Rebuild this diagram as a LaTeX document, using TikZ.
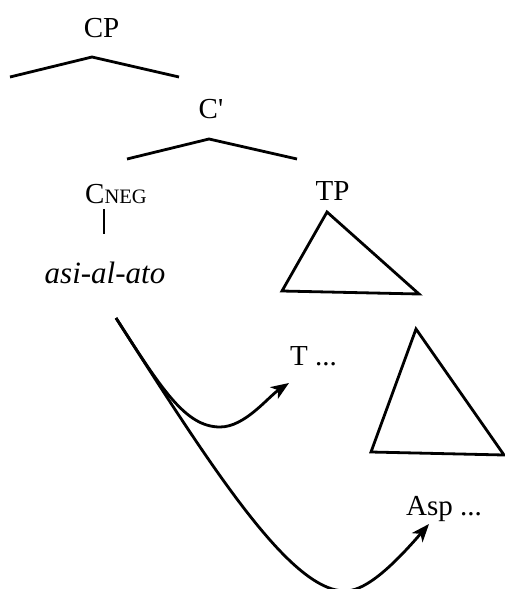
\documentclass[tikz,border=0pt]{standalone}
\usepackage{fontspec}
\setmainfont{Liberation Serif}
\usetikzlibrary{arrows.meta}
\begin{document}
\begin{tikzpicture}[x=1pt,y=-1pt,
  lbl/.style={inner sep=0pt,anchor=base,font=\fontsize{29}{33}\selectfont},
  itlbl/.style={inner sep=0pt,anchor=base,font=\fontsize{31}{36}\selectfont\itshape},
  branch/.style={line width=2.8pt},
  tri/.style={line width=2.8pt,line join=miter},
  mv/.style={line width=2.8pt,-{Stealth[length=18pt,width=14pt,inset=5pt]}}]
\useasboundingbox (0,0) rectangle (505,589);
% labels
\node[lbl] (cp) at (101.5,37) {CP};
\node[lbl] (cbar) at (211,118) {C\textquotesingle};
\node[lbl,anchor=base west] (cneg) at (85,203) {C{\fontsize{20.5}{22}\selectfont NEG}};
\node[lbl] (tp) at (332.5,200) {TP};
\node[itlbl] (asi) at (105,283) {asi-al-ato};
\node[lbl,anchor=base west] (t) at (290,365) {T ...};
\node[lbl,anchor=base west] (asp) at (406,515) {Asp ...};
% branch coordinates
\coordinate (cpL) at (10,77);
\coordinate (cpA) at (92,57);
\coordinate (cpR) at (179,77);
\coordinate (cbL) at (127,159);
\coordinate (cbA) at (209,139);
\coordinate (cbR) at (297,159);
\coordinate (vt) at (104,209);
\coordinate (vb) at (104,234);
\draw[branch] (cpL) -- (cpA) -- (cpR);
\draw[branch] (cbL) -- (cbA) -- (cbR);
\draw[branch] (vt) -- (vb);
% triangles
\coordinate (t1a) at (327,212);
\coordinate (t1l) at (282,291);
\coordinate (t1r) at (419,294);
\coordinate (t2a) at (416,329);
\coordinate (t2l) at (371,452);
\coordinate (t2r) at (504,455);
\draw[tri] (t1a) -- (t1l) -- (t1r) -- cycle;
\draw[tri] (t2a) -- (t2l) -- (t2r) -- cycle;
% movement arrows
\coordinate (s) at (116,318);
\coordinate (b1) at (220,427);
\coordinate (e1) at (289,383);
\coordinate (b2) at (345,591);
\coordinate (e2) at (429,524);
\draw[mv] (s) .. controls (161,388) and (185,427) .. (b1)
  .. controls (245,427) and (268,397) .. (e1);
\draw[mv] (s) .. controls (212,468) and (290,591) .. (b2)
  .. controls (362,591) and (385,575) .. (e2);
\end{tikzpicture}
\end{document}
